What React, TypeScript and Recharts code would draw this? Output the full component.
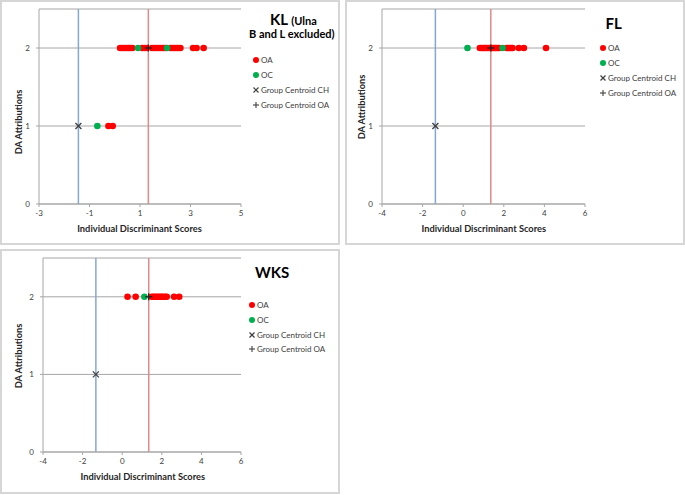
import React from 'react';
import { ScatterChart, Scatter, XAxis, YAxis, CartesianGrid, ReferenceLine } from 'recharts';

type Pt = { score: number; da: number };

// ---- KL (Ulna B and L excluded) ----
const klOA: Pt[] = [
  { score: 0.21, da: 2 }, { score: 0.3, da: 2 }, { score: 0.38, da: 2 }, { score: 0.46, da: 2 },
  { score: 0.54, da: 2 }, { score: 0.62, da: 2 }, { score: 0.7, da: 2 }, { score: 1.08, da: 2 },
  { score: 1.16, da: 2 }, { score: 1.24, da: 2 }, { score: 1.47, da: 2 }, { score: 1.56, da: 2 },
  { score: 1.65, da: 2 }, { score: 1.74, da: 2 }, { score: 1.83, da: 2 }, { score: 1.92, da: 2 },
  { score: 2.0, da: 2 }, { score: 2.2, da: 2 }, { score: 2.28, da: 2 }, { score: 2.36, da: 2 },
  { score: 2.44, da: 2 }, { score: 2.52, da: 2 }, { score: 2.6, da: 2 }, { score: 3.1, da: 2 },
  { score: 3.24, da: 2 }, { score: 3.52, da: 2 },
  { score: -0.25, da: 1 }, { score: -0.08, da: 1 },
];
const klOC: Pt[] = [{ score: 0.92, da: 2 }, { score: 2.07, da: 2 }, { score: -0.69, da: 1 }];
const klCentroidCH: Pt[] = [{ score: -1.44, da: 1 }];
const klCentroidOA: Pt[] = [{ score: 1.33, da: 2 }];
const klXTicks = [-3, -1, 1, 3, 5];

// ---- FL ----
const flOA: Pt[] = [
  { score: 0.82, da: 2 }, { score: 0.9, da: 2 }, { score: 0.98, da: 2 }, { score: 1.05, da: 2 },
  { score: 1.12, da: 2 }, { score: 1.2, da: 2 }, { score: 1.28, da: 2 }, { score: 1.4, da: 2 },
  { score: 1.48, da: 2 }, { score: 1.55, da: 2 }, { score: 1.62, da: 2 }, { score: 1.7, da: 2 },
  { score: 1.77, da: 2 }, { score: 2.14, da: 2 }, { score: 2.22, da: 2 }, { score: 2.3, da: 2 },
  { score: 2.38, da: 2 }, { score: 2.43, da: 2 }, { score: 2.74, da: 2 }, { score: 2.99, da: 2 },
  { score: 4.08, da: 2 },
];
const flOC: Pt[] = [{ score: 0.21, da: 2 }, { score: 1.94, da: 2 }];
const flCentroidCH: Pt[] = [{ score: -1.37, da: 1 }];
const flCentroidOA: Pt[] = [{ score: 1.36, da: 2 }];
const flXTicks = [-4, -2, 0, 2, 4, 6];

// ---- WKS ----
const wksOA: Pt[] = [
  { score: 0.27, da: 2 }, { score: 0.68, da: 2 }, { score: 1.49, da: 2 }, { score: 1.58, da: 2 },
  { score: 1.66, da: 2 }, { score: 1.75, da: 2 }, { score: 1.83, da: 2 }, { score: 1.92, da: 2 },
  { score: 2.0, da: 2 }, { score: 2.08, da: 2 }, { score: 2.17, da: 2 }, { score: 2.25, da: 2 },
  { score: 2.62, da: 2 }, { score: 2.88, da: 2 },
];
const wksOC: Pt[] = [{ score: 1.12, da: 2 }];
const wksCentroidCH: Pt[] = [{ score: -1.33, da: 1 }];
const wksCentroidOA: Pt[] = [{ score: 1.34, da: 2 }];
const wksXTicks = [-4, -2, 0, 2, 4, 6];

const yTicks = [0, 1, 2];
const legendLabels = ['OA', 'OC', 'Group Centroid CH', 'Group Centroid OA'];
const xTitle = 'Individual Discriminant Scores';
const yTitle = 'DA Attributions';

const FONT = 'Lato, "Open Sans", sans-serif';
const RED = '#ff0000';
const GREEN = '#00b050';
const MARK = '#404040';

const redDot = (p: any) => <circle cx={p.cx} cy={p.cy} r={3.3} fill={RED} />;
const greenDot = (p: any) => <circle cx={p.cx} cy={p.cy} r={3.3} fill={GREEN} />;
const xMark = (p: any) => (
  <g>
    <line x1={p.cx - 3} y1={p.cy - 3} x2={p.cx + 3} y2={p.cy + 3} stroke={MARK} strokeWidth={1.3} />
    <line x1={p.cx - 3} y1={p.cy + 3} x2={p.cx + 3} y2={p.cy - 3} stroke={MARK} strokeWidth={1.3} />
  </g>
);
const plusMark = (p: any) => (
  <g>
    <line x1={p.cx - 3.5} y1={p.cy} x2={p.cx + 3.5} y2={p.cy} stroke="#222" strokeWidth={1.3} />
    <line x1={p.cx} y1={p.cy - 3.5} x2={p.cx} y2={p.cy + 3.5} stroke="#222" strokeWidth={1.3} />
  </g>
);

type PanelProps = {
  left: number;
  top: number;
  oa: Pt[];
  oc: Pt[];
  ch: Pt[];
  oaC: Pt[];
  xDomain: [number, number];
  xTicks: number[];
  margin: { top: number; right: number; bottom: number; left: number };
  yAxisWidth: number;
  title: React.ReactNode;
  legendX: number;
  legendY: number[];
  xTitlePos: [number, number];
  yTitlePos: [number, number];
};

const LegendMarker = ({ kind }: { kind: number }) => (
  <svg width={8} height={8} style={{ position: 'absolute', left: 0, top: 0 }}>
    {kind === 0 && <circle cx={4} cy={4} r={3} fill={RED} />}
    {kind === 1 && <circle cx={4} cy={4} r={3} fill={GREEN} />}
    {kind === 2 && (
      <g>
        <line x1={1.5} y1={1.5} x2={6.5} y2={6.5} stroke={MARK} strokeWidth={1.2} />
        <line x1={1.5} y1={6.5} x2={6.5} y2={1.5} stroke={MARK} strokeWidth={1.2} />
      </g>
    )}
    {kind === 3 && (
      <g>
        <line x1={1} y1={4} x2={7} y2={4} stroke={MARK} strokeWidth={1.1} />
        <line x1={4} y1={1} x2={4} y2={7} stroke={MARK} strokeWidth={1.1} />
      </g>
    )}
  </svg>
);

const Panel = (pp: PanelProps) => {
  const W = 340;
  const H = 245;
  const tick = { fontSize: 8, fill: '#404040', fontFamily: FONT };
  return (
    <div
      style={{
        position: 'absolute',
        left: pp.left,
        top: pp.top,
        width: W,
        height: H,
        boxSizing: 'border-box',
        border: '2px solid #d6d6d6',
        background: '#fff',
      }}
    >
      <div style={{ position: 'absolute', left: -2, top: -2 }}>
        <ScatterChart width={W} height={H} margin={pp.margin}>
          <CartesianGrid horizontal={true} vertical={false} stroke="#a6a6a6" strokeWidth={1} />
          <XAxis
            type="number"
            dataKey="score"
            domain={pp.xDomain}
            ticks={pp.xTicks}
            allowDataOverflow
            axisLine={{ stroke: '#a6a6a6' }}
            tickLine={{ stroke: '#a6a6a6' }}
            tickSize={3}
            tickMargin={3}
            tick={tick}
            height={30}
          />
          <YAxis
            type="number"
            dataKey="da"
            domain={[0, 2.5]}
            ticks={yTicks}
            allowDataOverflow
            axisLine={{ stroke: '#a6a6a6' }}
            tickLine={{ stroke: '#a6a6a6' }}
            tickSize={3}
            tickMargin={6}
            tick={tick}
            width={pp.yAxisWidth}
          />
          <ReferenceLine x={pp.ch[0].score} stroke="#84a7d9" strokeWidth={1.5} />
          <ReferenceLine x={pp.oaC[0].score} stroke="#e08a8a" strokeWidth={1.5} />
          <Scatter data={pp.oa} shape={redDot} isAnimationActive={false} />
          <Scatter data={pp.oc} shape={greenDot} isAnimationActive={false} />
          <Scatter data={pp.ch} shape={xMark} isAnimationActive={false} />
          <Scatter data={pp.oaC} shape={plusMark} isAnimationActive={false} />
        </ScatterChart>
      </div>
      {pp.title}
      {legendLabels.map((lab, i) => (
        <div
          key={lab}
          style={{
            position: 'absolute',
            left: pp.legendX - 4 - 2,
            top: pp.legendY[i] - 4 - 2,
            height: 8,
            whiteSpace: 'nowrap',
          }}
        >
          <LegendMarker kind={i} />
          <span
            style={{
              position: 'absolute',
              left: 9,
              top: -1,
              fontSize: 8,
              lineHeight: '10px',
              fontFamily: FONT,
              color: '#404040',
            }}
          >
            {lab}
          </span>
        </div>
      ))}
      <div
        style={{
          position: 'absolute',
          left: pp.xTitlePos[0] - 100 - 2,
          top: pp.xTitlePos[1] - 6 - 2,
          width: 200,
          textAlign: 'center',
          fontSize: 9.3,
          lineHeight: '12px',
          fontWeight: 700,
          fontFamily: FONT,
          color: '#262626',
          whiteSpace: 'nowrap',
        }}
      >
        {xTitle}
      </div>
      <div
        style={{
          position: 'absolute',
          left: pp.yTitlePos[0] - 50 - 2,
          top: pp.yTitlePos[1] - 6 - 2,
          width: 100,
          textAlign: 'center',
          fontSize: 9.3,
          lineHeight: '12px',
          fontWeight: 700,
          fontFamily: FONT,
          color: '#262626',
          whiteSpace: 'nowrap',
          transform: 'rotate(-90deg)',
        }}
      >
        {yTitle}
      </div>
    </div>
  );
};

const titleStyle: React.CSSProperties = {
  position: 'absolute',
  fontFamily: FONT,
  fontWeight: 700,
  color: '#000',
  whiteSpace: 'nowrap',
};

export default function App() {
  return (
    <div style={{ position: 'absolute', left: 0, top: 0, width: 685, height: 495, background: '#fff' }}>
      <Panel
        left={0}
        top={0}
        oa={klOA}
        oc={klOC}
        ch={klCentroidCH}
        oaC={klCentroidOA}
        xDomain={[-3, 5]}
        xTicks={klXTicks}
        margin={{ top: 9, right: 99, bottom: 11, left: 1 }}
        yAxisWidth={38}
        title={
          <>
            <div style={{ ...titleStyle, left: 268, top: 8, fontSize: 15, lineHeight: '18px' }}>
              KL <span style={{ fontSize: 11 }}>(Ulna</span>
            </div>
            <div style={{ ...titleStyle, left: 247, top: 25, fontSize: 11, lineHeight: '14px' }}>
              B and L excluded)
            </div>
          </>
        }
        legendX={256}
        legendY={[60, 75, 90, 105]}
        xTitlePos={[139.5, 228.7]}
        yTitlePos={[19, 121.7]}
      />
      <Panel
        left={345}
        top={0}
        oa={flOA}
        oc={flOC}
        ch={flCentroidCH}
        oaC={flCentroidOA}
        xDomain={[-4, 6]}
        xTicks={flXTicks}
        margin={{ top: 9, right: 100, bottom: 11, left: 0 }}
        yAxisWidth={37}
        title={<div style={{ ...titleStyle, left: 605.5 - 345 - 2, top: 12, fontSize: 15, lineHeight: '18px' }}>FL</div>}
        legendX={603 - 345}
        legendY={[48.3, 62.7, 78.3, 93.3]}
        xTitlePos={[483.8 - 345, 228.7]}
        yTitlePos={[362.3 - 345, 106.7]}
      />
      <Panel
        left={0}
        top={249}
        oa={wksOA}
        oc={wksOC}
        ch={wksCentroidCH}
        oaC={wksCentroidOA}
        xDomain={[-4, 6]}
        xTicks={wksXTicks}
        margin={{ top: 9, right: 99, bottom: 12, left: 5 }}
        yAxisWidth={38}
        title={<div style={{ ...titleStyle, left: 253, top: 263 - 249 - 2, fontSize: 15, lineHeight: '18px' }}>WKS</div>}
        legendX={252}
        legendY={[305 - 249, 320 - 249, 335 - 249, 349.3 - 249]}
        xTitlePos={[142.8, 477.3 - 249]}
        yTitlePos={[19, 356 - 249]}
      />
    </div>
  );
}
